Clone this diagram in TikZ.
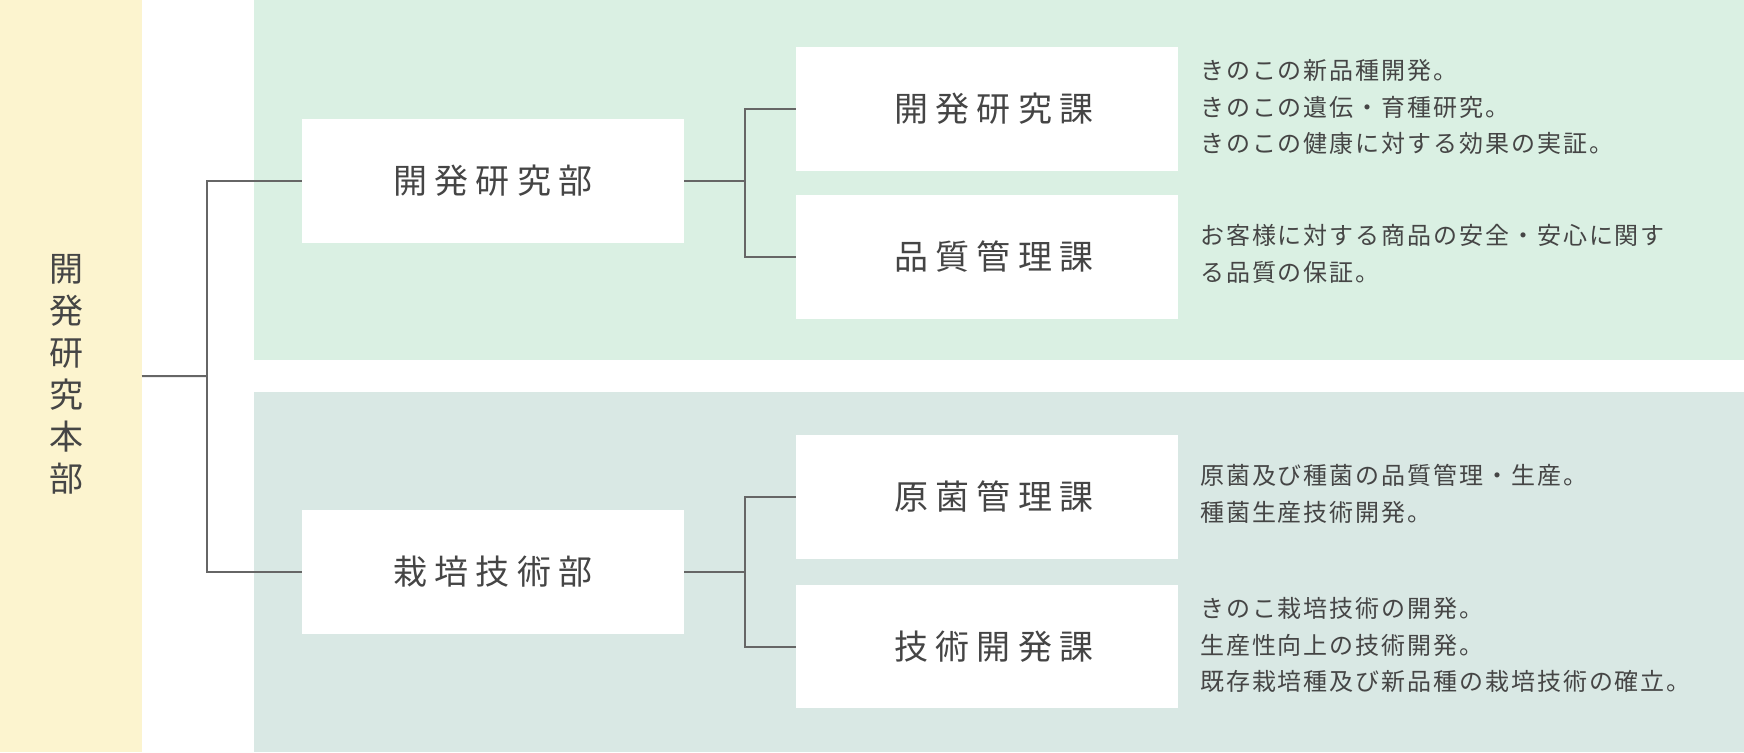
\documentclass[tikz,border=0pt]{standalone}
\usepackage{fontspec}
\newfontfamily\jpfont{Noto Sans CJK JP}
\newfontfamily\jplabel[LetterSpace=22]{Noto Sans CJK JP}
\newfontfamily\jpdesc[LetterSpace=8]{Noto Sans CJK JP}
\newcommand\labelf{\jplabel\fontsize{34}{40}\selectfont}
\newcommand\hqf{\jpfont\fontsize{34}{42}\selectfont}
\newcommand\descf{\jpdesc\fontsize{24}{36.5}\selectfont}
\definecolor{hqyellow}{HTML}{FCF4CF}
\definecolor{topgreen}{HTML}{DAF0E3}
\definecolor{botgreen}{HTML}{D9E8E4}
\definecolor{txt}{HTML}{454545}
\definecolor{ln}{HTML}{666666}
\begin{document}
\begin{tikzpicture}[x=1pt,y=-1pt,
  bubox/.style={fill=white, minimum width=382pt, minimum height=123.5pt, inner sep=0pt, font=\labelf, text=txt},
  kabox/.style={bubox, execute at begin node={\hspace*{14pt}}},
  desc/.style={anchor=west, align=left, font=\descf, text=txt, inner sep=0pt},
  conn/.style={draw=ln, line width=2pt}]
\useasboundingbox (0,0) rectangle (1744,752);
\fill[topgreen] (253.7,0) rectangle (1744,360);
\fill[botgreen] (253.7,391.7) rectangle (1744,752);
\node[fill=hqyellow, minimum width=141.6pt, minimum height=752pt, inner sep=0pt, anchor=north west] (hq) at (0,0) {};
\node[font=\hqf, text=txt, align=center, inner sep=0pt] (hqt) at (66,374) {開\\発\\研\\究\\本\\部};
\node[bubox] (b1) at (493,181) {開発研究部};
\node[bubox] (b2) at (493,572) {栽培技術部};
\node[kabox] (k1) at (987,109) {開発研究課};
\node[kabox] (k2) at (987,257) {品質管理課};
\node[kabox] (k3) at (987,497) {原菌管理課};
\node[kabox] (k4) at (987,646.7) {技術開発課};
\coordinate (j0) at (207,376);
\coordinate (j1) at (745,181);
\coordinate (j2) at (745,572);
\draw[conn] (hq.east) -- (j0);
\draw[conn] (b1.west) -| (j0) |- (b2.west);
\draw[conn] (b1.east) -- (j1);
\draw[conn] (k1.west) -| (j1) |- (k2.west);
\draw[conn] (b2.east) -- (j2);
\draw[conn] (k3.west) -| (j2) |- (k4.west);
\node[desc] (d1) at (1200,107) {きのこの新品種開発。\\きのこの遺伝・育種研究。\\きのこの健康に対する効果の実証。};
\node[desc] (d2) at (1200,254) {お客様に対する商品の安全・安心に関す\\る品質の保証。};
\node[desc] (d3) at (1200,494) {原菌及び種菌の品質管理・生産。\\種菌生産技術開発。};
\node[desc] (d4) at (1200,645) {きのこ栽培技術の開発。\\生産性向上の技術開発。\\既存栽培種及び新品種の栽培技術の確立。};
\end{tikzpicture}
\end{document}
